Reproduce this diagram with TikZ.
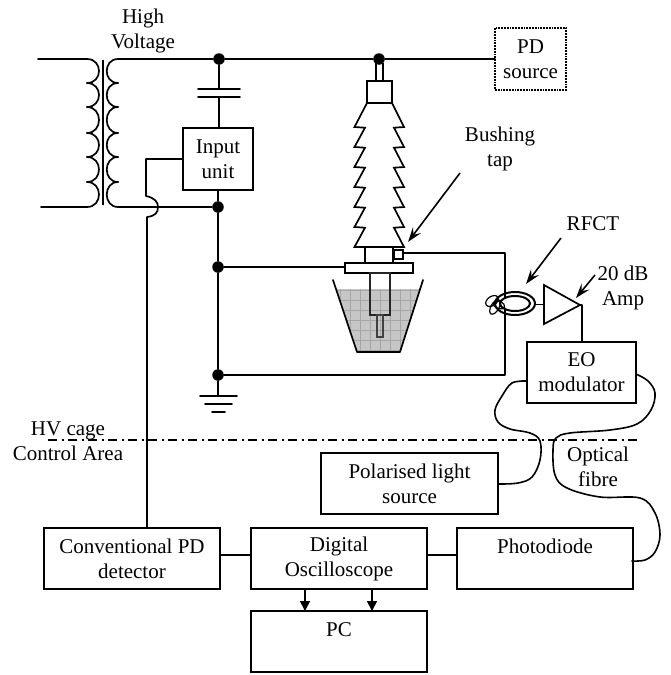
\documentclass[tikz,border=0pt]{standalone}
\usepackage{fontspec}
\setmainfont{Liberation Serif}
\usetikzlibrary{arrows.meta,calc}
\tikzset{
  wire/.style={line width=1.7pt,line cap=round,line join=round},
  part/.style={line width=1.7pt,line join=miter},
  txt/.style={inner sep=0pt,outer sep=0pt,align=center,font=\fontsize{21}{25}\selectfont},
  box/.style={txt,draw,line width=1.8pt,fill=white,anchor=north west},
  dot/.style={circle,fill=black,inner sep=0pt,minimum size=11.5pt},
  pointer/.style={line width=1.6pt,-{Stealth[length=15pt,width=10pt,inset=6pt]}},
  solidhead/.style={line width=1.6pt,-{Stealth[length=10pt,width=10pt,inset=0pt]}},
  fibre/.style={line width=1.6pt,line cap=round},
  border/.style={line width=1.5pt,dash pattern=on 9pt off 4.5pt on 2pt off 4.5pt}
}
\newcommand{\coilL}[2]{\draw[wire] (87,#1) .. controls (103,#1) and (103,#2) .. (87,#2);}
\newcommand{\coilR}[2]{\draw[wire] (118,#1) .. controls (103,#1) and (103,#2) .. (118,#2);}
\begin{document}
\begin{tikzpicture}[x=1pt,y=-1pt]
\useasboundingbox (0,0) rectangle (670,675);
\fill[white] (0,0) rectangle (670,675);
% labels
\node[txt] (hv) at (143,31) {High\\Voltage};
\node[txt] (btap) at (500,149) {Bushing\\tap};
\node[txt] (rfct) at (593,224) {RFCT};
\node[txt] (amp) at (623,288) {20 dB\\Amp};
\node[txt] (ofib) at (598,467) {Optical\\fibre};
\node[txt] (area) at (68,441.5) {HV cage\\Control Area};
% boundary
\coordinate (bl) at (48,440);
\coordinate (br) at (640,440);
\draw[border] (bl) -- (br);
% oil
\fill[gray!45] (336.5,289) -- (357,352) -- (400,352) -- (420,289) -- cycle;
\begin{scope}
\clip (336.5,289) -- (357,352) -- (400,352) -- (420,289) -- cycle;
\draw[gray!70,line width=.5pt] (331,284) grid[step=10pt] (431,354);
\end{scope}
% tank
\draw[wire] (333,280) -- (357,352) -- (400,352) -- (423,280);
% junctions
\node[dot] (jtop) at (219,59) {};
\node[dot] (jbus) at (379,59) {};
\node[dot] (jlow) at (218,207) {};
\node[dot] (jmid) at (218,267) {};
\node[dot] (jgnd) at (218,375) {};
\coordinate (pl) at (38,59);
\coordinate (pb) at (41,207);
% boxes
\node[box,minimum width=176pt,minimum height=61pt] (pc) at (251,611) {PC\\[-8pt]\strut};
\node[box,minimum width=176pt,minimum height=61pt] (conv) at (44,528) {Conventional PD\\detector};
\node[box,minimum width=176pt,minimum height=61pt] (osc) at (251,528) {Digital\\Oscilloscope};
\node[box,minimum width=176pt,minimum height=61pt] (photo) at (457,528) {Photodiode\\[-8pt]\strut};
\node[box,minimum width=177pt,minimum height=61pt] (pol) at (321,453) {Polarised light\\source};
\node[box,minimum width=109pt,minimum height=61pt] (eo) at (527,342) {EO\\modulator};
\node[box,minimum width=70pt,minimum height=62pt] (inp) at (183,128) {Input\\unit};
\node[box,densely dotted,line width=1.5pt,minimum width=71pt,minimum height=62pt] (pds) at (495,28) {PD\\source};
% transformer
\draw[wire] (pl) -- (87,59);
\draw[wire] (pb) -- (87,207);
\coilL{59}{83}\coilL{83}{107}\coilL{107}{133}\coilL{133}{157}\coilL{157}{182}\coilL{182}{207}
\coilR{59}{83}\coilR{83}{107}\coilR{107}{133}\coilR{133}{157}\coilR{157}{182}\coilR{182}{207}
\draw[line width=2.2pt] (102.7,60) -- (102.7,205);
% HV bus
\draw[wire] (118,59) -- (jtop) -- (jbus) -- (pds.west |- jbus);
\draw[wire] (118,207) -- (jlow);
% capacitor & input unit
\coordinate (cu) at (219,89);
\coordinate (cl) at (219,97);
\draw[wire] (jtop) -- (cu);
\draw[wire] (198,89) -- (240,89);
\draw[wire] (198,97) -- (240,97);
\draw[wire] (cl) -- (cl |- inp.north);
\draw[wire] (inp.south) -- (jlow) -- (jmid) -- (jgnd);
% earth
\coordinate (ge) at (218,396);
\draw[wire] (jgnd) -- (ge);
\draw[wire] (200,396) -- (237,396);
\draw[wire] (205,404) -- (232,404);
\draw[wire] (212,412) -- (225,412);
% input unit to conventional detector
\coordinate (hu) at (146,159);
\draw[wire] (inp.west |- hu) -- (hu) -- (146,196)
  .. controls (155,198) and (158,202) .. (158,207)
  .. controls (158,213) and (155,216) .. (147,217) -- (147,528);
% bushing
\draw[part] (376,63) -- (376,81) (383,63) -- (383,81);
\draw[part] (367,81) rectangle (392,103);
\draw[part] (367,103) -- (354.5,127) -- (365,127.7) -- (354.5,147) -- (365,147.7) -- (354.5,167) -- (365,167.7) -- (354.5,187) -- (365,187.7) -- (354.5,207) -- (365,207.7) -- (354.5,227) -- (365,227.7) -- (354.5,247)
  -- (404,247) -- (394,227.7) -- (404,227) -- (394,207.7) -- (404,207) -- (394,187.7) -- (404,187) -- (394,167.7) -- (404,167) -- (394,147.7) -- (404,147) -- (394,127.7) -- (404,127) -- (392,103);
\draw[part] (365,247) -- (365,263) (393,247) -- (393,263);
\node[draw,line width=1.7pt,fill=white,anchor=north west,inner sep=0pt,outer sep=0pt,minimum width=68pt,minimum height=10pt] (fl) at (345,263) {};
\node[draw,line width=1.7pt,fill=white,anchor=north west,inner sep=0pt,outer sep=0pt,minimum width=9pt,minimum height=9pt] (tap) at (394,250) {};
\draw[part,black!85] (370,273) rectangle (390,315);
\draw[part,black!75,line width=1.5pt] (377,315) rectangle (383,337);
\draw[wire] (jmid) -- (jmid -| fl.west);
% loop through RFCT
\coordinate (lt) at (505,253);
\coordinate (lb) at (505,375);
\draw[wire] (tap.east |- lt) -- (lt) -- (lb) -- (jgnd);
% RFCT
\coordinate (ct) at (515,303.5);
\draw[line width=2pt] (ct) ellipse[x radius=20,y radius=11.5];
\draw[line width=2pt,fill=white] (ct) ellipse[x radius=15,y radius=7.5];
\draw[line width=1.2pt,rotate around={35:(492,301)}] (492,301) ellipse[x radius=7,y radius=4.5];
\draw[line width=1.2pt,rotate around={60:(495,307)}] (495,307) ellipse[x radius=8,y radius=4];
\draw[line width=1.2pt,rotate around={-20:(499,305)}] (499,305) ellipse[x radius=6,y radius=3.5];
% amplifier
\node[coordinate] (a1) at (544,285) {};
\node[coordinate] (a2) at (544,324) {};
\node[coordinate] (a3) at (580,305) {};
\draw[part] (a1) -- (a3) -- (a2) -- cycle;
\draw[wire] (535,304.5) -- (544,304.5);
\draw[wire] (a3) -- (582,305) -- (582,342);
% pointers
\coordinate (pa) at (460,173);
\coordinate (pb2) at (408,242);
\draw[pointer] (pa) -- (pb2);
\coordinate (pc1) at (561,238);
\coordinate (pc2) at (526,284);
\draw[pointer] (pc1) -- (pc2);
\coordinate (pd1) at (595,275);
\coordinate (pd2) at (576,298);
\draw[pointer] (pd1) -- (pd2);
% fibres
\draw[fibre] plot[smooth,tension=.6] coordinates {(527,381) (512,383) (502,396) (495,410) (498,422) (510,429) (530,433) (540,441) (540,460) (532,477) (518,483) (498,484)};
\draw[fibre] plot[smooth,tension=.6] coordinates {(636,374) (648,381) (655,393) (651,410) (637,424) (610,430) (570,433) (556,438) (553,450) (555,475) (567,488) (600,497) (640,498) (655,513) (660,535) (655,552) (645,560) (632,561)};
% block links
\draw[wire] (conv.east |- 0,555) -- (osc.west |- 0,555);
\draw[wire] (osc.east |- 0,555) -- (photo.west |- 0,555);
\coordinate (d1) at (305,589);
\coordinate (d2) at (372,589);
\draw[solidhead] (d1) -- (d1 |- pc.north);
\draw[solidhead] (d2) -- (d2 |- pc.north);
\end{tikzpicture}
\end{document}
